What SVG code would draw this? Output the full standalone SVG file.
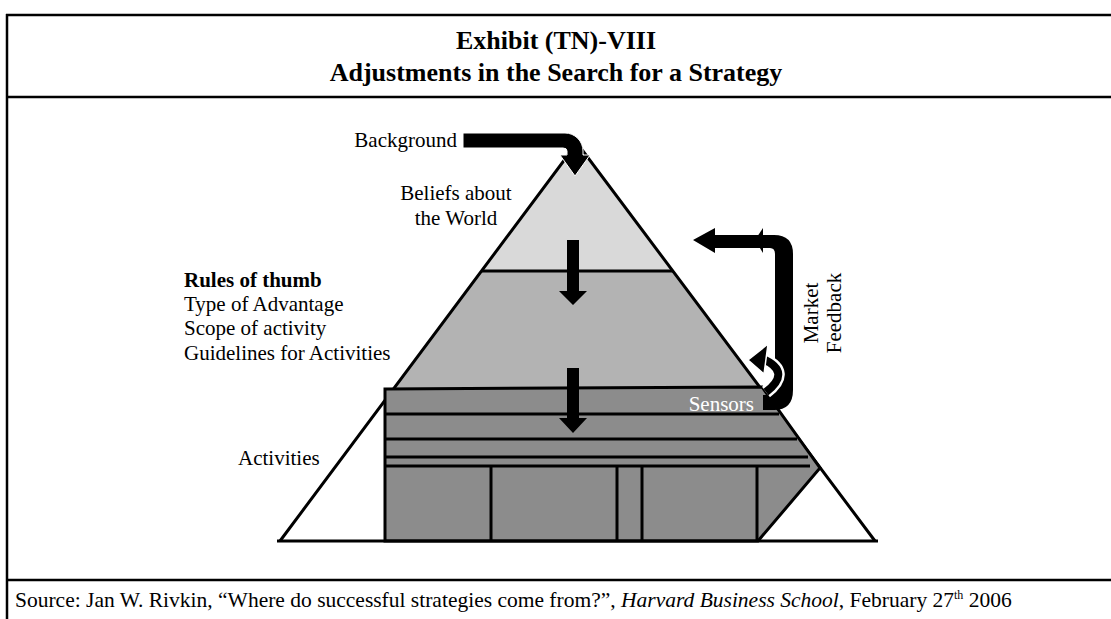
<svg xmlns="http://www.w3.org/2000/svg" width="1111" height="619" viewBox="0 0 1111 619">
  <style>
    .frame { stroke: #000; stroke-width: 2.5; fill: none; }
    .edge { stroke: #000; stroke-width: 3; fill: none; stroke-linejoin: miter; }
    .line { stroke: #000; stroke-width: 3; fill: none; }
    .txt { font-family: "Liberation Serif", "Times New Roman", serif; font-size: 21px; fill: #000; }
    .title { font-family: "Liberation Serif", "Times New Roman", serif; font-size: 26px; font-weight: bold; fill: #000; }
    .arrow { fill: #000; }
  </style>

  <rect x="0" y="0" width="1111" height="619" fill="#fff"/>

  <!-- frame -->
  <g id="frame">
    <line class="frame" x1="6" y1="15" x2="1111" y2="15"/>
    <line class="frame" x1="7" y1="14" x2="7" y2="619"/>
    <line class="frame" x1="6" y1="97" x2="1111" y2="97"/>
    <line class="frame" x1="6" y1="580" x2="1111" y2="580"/>
  </g>

  <g id="title">
    <text class="title" x="556" y="48.5" text-anchor="middle">Exhibit (TN)-VIII</text>
    <text class="title" x="556" y="81" text-anchor="middle">Adjustments in the Search for a Strategy</text>
  </g>

  <!-- pyramid -->
  <g id="pyramid">
    <polygon points="577,143 280,541 875,541" fill="#fff"/>
    <polygon points="577,143 481.5,271 673,271" fill="#d9d9d9"/>
    <polygon points="481.5,271 673,271 762,390 393,390" fill="#b3b3b3"/>
    <polyline class="edge" points="280,541 577,143 875,541"/>
    <line class="line" x1="481" y1="271" x2="673" y2="271"/>
  </g>

  <g id="activities-block">
    <polygon points="385,389 762,387 820,468 758,541 385,541" fill="#8c8c8c" stroke="#000" stroke-width="3" stroke-linejoin="miter"/>
    <line class="line" x1="385" y1="414" x2="779" y2="414"/>
    <line class="line" x1="385" y1="439" x2="797" y2="439"/>
    <line class="line" x1="385" y1="457" x2="808" y2="457"/>
    <line class="line" x1="385" y1="466" x2="810" y2="466"/>
    <line class="line" x1="491" y1="466" x2="491" y2="541"/>
    <line class="line" x1="617" y1="466" x2="617" y2="541"/>
    <line class="line" x1="642" y1="466" x2="642" y2="541"/>
    <line class="line" x1="757" y1="466" x2="757" y2="541"/>
    <line class="line" x1="277" y1="541" x2="878" y2="541"/>
  </g>

  <!-- connectors -->
  <g id="connectors">
    <!-- background feeding into beliefs -->
    <path class="arrow" stroke="#fff" stroke-width="1" d="M463,133 H565 A18,18 0 0 1 583,151 V155 H590 L575,176 L560,155 H567 V151 Q567,148 563,148 H463 Z"/>
    <!-- beliefs to rules of thumb -->
    <path class="arrow" d="M567,240 H579 V291 H587 L573,305 L559,291 H567 Z"/>
    <!-- rules of thumb to activities -->
    <path class="arrow" d="M567,368 H579 V418 H587 L573,433 L559,418 H567 Z"/>
    <!-- market feedback loop -->
    <path class="arrow" d="M763,395 H770 Q775,395 775,388 V254 Q775,248 770,248 H715 V253 L693,240 L715,228 V235 H774 Q793,235 793,254 V390 Q793,410 774,410 H763 Z"/>
    <polygon class="arrow" points="755,240 763,228 763,253"/>
    <path d="M763,359 Q792,372 766,392" fill="none" stroke="#fff" stroke-width="13"/>
    <path d="M763,359 Q792,372 766,392" fill="none" stroke="#000" stroke-width="8"/>
    <polygon class="arrow" stroke="#fff" stroke-width="1.5" points="748,360 768,344 764,374"/>
  </g>

  <g id="background">
    <text class="txt" x="457" y="147" text-anchor="end">Background</text>
  </g>

  <g id="beliefs">
    <text class="txt" x="456" y="200" text-anchor="middle">Beliefs about</text>
    <text class="txt" x="456" y="225" text-anchor="middle">the World</text>
  </g>

  <g id="rules">
    <text class="txt" x="184" y="287" font-weight="bold">Rules of thumb</text>
    <text class="txt" x="184" y="311">Type of Advantage</text>
    <text class="txt" x="184" y="335">Scope of activity</text>
    <text class="txt" x="184" y="360">Guidelines for Activities</text>
  </g>

  <g id="activities">
    <text class="txt" x="238" y="465">Activities</text>
  </g>

  <g id="sensors">
    <text class="txt" x="754" y="411" text-anchor="end" style="fill:#fff">Sensors</text>
  </g>

  <g id="market-feedback">
    <text class="txt" transform="translate(818,313) rotate(-90)" text-anchor="middle">Market<tspan x="0" dy="23">Feedback</tspan></text>
  </g>

  <g id="source">
    <text class="txt" x="15" y="607" style="font-size:21.5px">Source: Jan W. Rivkin, “Where do successful strategies come from?”, <tspan font-style="italic">Harvard Business School</tspan>, February 27<tspan font-size="12" dy="-8">th</tspan><tspan dy="8"> 2006</tspan></text>
  </g>
</svg>
